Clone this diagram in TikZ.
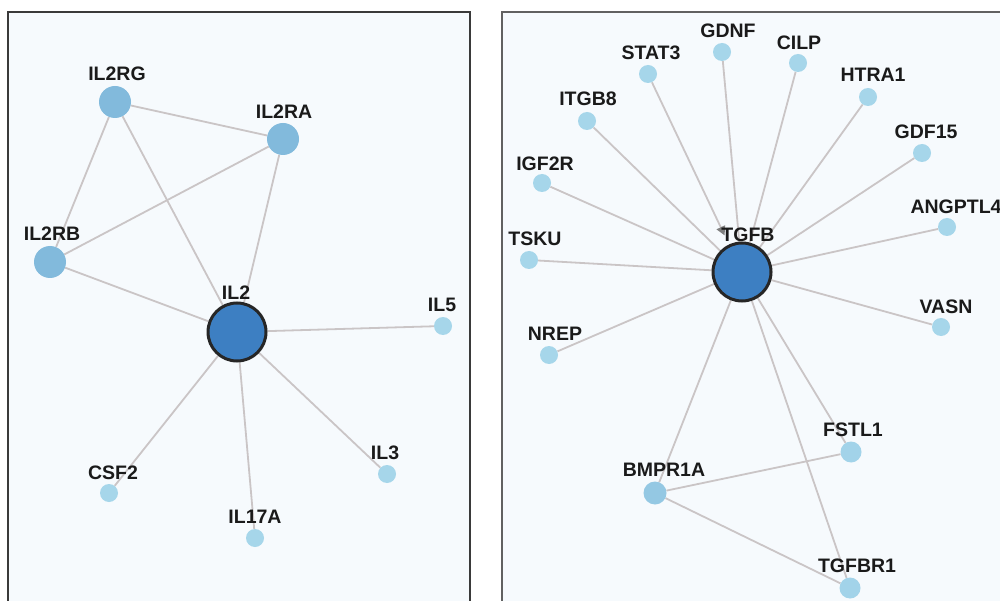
\documentclass[tikz,border=0pt]{standalone}
\usepackage{fontspec}
\setmainfont{Liberation Sans}
\usetikzlibrary{arrows.meta}
\definecolor{bgc}{HTML}{F6FAFD}
\definecolor{edgec}{HTML}{CAC5C6}
\definecolor{hubc}{HTML}{3D7FC2}
\definecolor{midc}{HTML}{82BADC}
\definecolor{smallc}{HTML}{A6D6EA}
\definecolor{framec}{HTML}{3A3A3A}
\definecolor{txtc}{HTML}{1A1A1A}
\pgfdeclarelayer{back}
\pgfdeclarelayer{edges}
\pgfsetlayers{back,edges,main}
\tikzset{
  hub/.style={circle,fill=hubc,draw=black!85,line width=3pt,minimum size=58pt,inner sep=0pt},
  midnode/.style={circle,fill=midc,minimum size=32pt,inner sep=0pt},
  bnode/.style={circle,fill=smallc!50!midc,minimum size=23pt,inner sep=0pt},
  snode/.style={circle,fill=smallc,minimum size=18pt,inner sep=0pt},
  mnode/.style={circle,fill=smallc!90!midc,minimum size=21pt,inner sep=0pt},
  lbl/.style={text=txtc,font=\bfseries\fontsize{19.5}{19.5}\selectfont,inner sep=0pt},
  edge/.style={draw=edgec,line width=1.8pt},
  frame/.style={draw=framec,line width=1.8pt}
}
\begin{document}
\begin{tikzpicture}[x=1pt,y=-1pt]
\useasboundingbox (0,0) rectangle (1000,601);
\begin{pgfonlayer}{back}
\fill[white] (0,0) rectangle (1000,601);
\fill[bgc] (8,12) rectangle (470,601);
\fill[bgc] (502,12) rectangle (1000,601);
\draw[frame] (8,601) -- (8,12) -- (470,12) -- (470,601);
\draw[frame,draw=framec!80] (502,601) -- (502,12) -- (1000,12);
\end{pgfonlayer}

% ---------- left panel ----------
\node[hub] (IL2) at (237,332) {};
\node[midnode] (IL2RG) at (115,102) {};
\node[midnode] (IL2RA) at (283,139) {};
\node[midnode] (IL2RB) at (50,262) {};
\node[snode] (IL5) at (443,326) {};
\node[snode] (IL3) at (387,474) {};
\node[snode] (CSF2) at (109,493) {};
\node[snode] (IL17A) at (255,538) {};

\node[lbl] (IL2-l) at (236,293) {IL2};
\node[lbl] (IL2RG-l) at (117,74) {IL2RG};
\node[lbl] (IL2RA-l) at (284,112) {IL2RA};
\node[lbl] (IL2RB-l) at (52,234) {IL2RB};
\node[lbl] (IL5-l) at (442,305) {IL5};
\node[lbl] (IL3-l) at (385,453) {IL3};
\node[lbl] (CSF2-l) at (113,473) {CSF2};
\node[lbl] (IL17A-l) at (255,517) {IL17A};

% ---------- right panel ----------
\node[hub] (TGFB) at (742,272) {};
\node[snode] (GDNF) at (722,52) {};
\node[snode] (STAT3) at (648,74) {};
\node[snode] (CILP) at (798,63) {};
\node[snode] (HTRA1) at (868,97) {};
\node[snode] (ITGB8) at (587,121) {};
\node[snode] (GDF15) at (922,153) {};
\node[snode] (IGF2R) at (542,183) {};
\node[snode] (ANGPTL4) at (947,227) {};
\node[snode] (TSKU) at (529,260) {};
\node[snode] (VASN) at (941,327) {};
\node[snode] (NREP) at (549,355) {};
\node[mnode] (FSTL1) at (851,452) {};
\node[bnode] (BMPR1A) at (655,493) {};
\node[mnode] (TGFBR1) at (850,588) {};

\node[lbl] (TGFB-l) at (748,235) {TGFB};
\node[lbl] (GDNF-l) at (728,31) {GDNF};
\node[lbl] (STAT3-l) at (651,53) {STAT3};
\node[lbl] (CILP-l) at (799,43) {CILP};
\node[lbl] (HTRA1-l) at (873,75) {HTRA1};
\node[lbl] (ITGB8-l) at (588,99) {ITGB8};
\node[lbl] (GDF15-l) at (926,132) {GDF15};
\node[lbl] (IGF2R-l) at (545,164) {IGF2R};
\node[lbl] (ANGPTL4-l) at (956,207) {ANGPTL4};
\node[lbl] (TSKU-l) at (535,239) {TSKU};
\node[lbl] (VASN-l) at (946,307) {VASN};
\node[lbl] (NREP-l) at (555,334) {NREP};
\node[lbl] (FSTL1-l) at (853,430) {FSTL1};
\node[lbl] (BMPR1A-l) at (664,470) {BMPR1A};
\node[lbl] (TGFBR1-l) at (857,566) {TGFBR1};

% ---------- edges ----------
\begin{pgfonlayer}{edges}
\draw[edge] (IL2RG) -- (IL2RA);
\draw[edge] (IL2RG) -- (IL2RB);
\draw[edge] (IL2RG) -- (IL2);
\draw[edge] (IL2RA) -- (IL2RB);
\draw[edge] (IL2RA) -- (IL2);
\draw[edge] (IL2RB) -- (IL2);
\draw[edge] (IL2) -- (IL5);
\draw[edge] (IL2) -- (IL3);
\draw[edge] (IL2) -- (CSF2);
\draw[edge] (IL2) -- (IL17A);
\foreach \n in {GDNF,CILP,HTRA1,ITGB8,GDF15,IGF2R,ANGPTL4,TSKU,VASN,NREP,FSTL1,BMPR1A,TGFBR1}
  \draw[edge] (TGFB) -- (\n);
\draw[edge,shorten >=10pt,-{Triangle[length=9pt,width=9pt,color=gray]}] (STAT3) -- (TGFB);
\draw[edge] (BMPR1A) -- (FSTL1);
\draw[edge] (BMPR1A) -- (TGFBR1);
\end{pgfonlayer}
\end{tikzpicture}
\end{document}
